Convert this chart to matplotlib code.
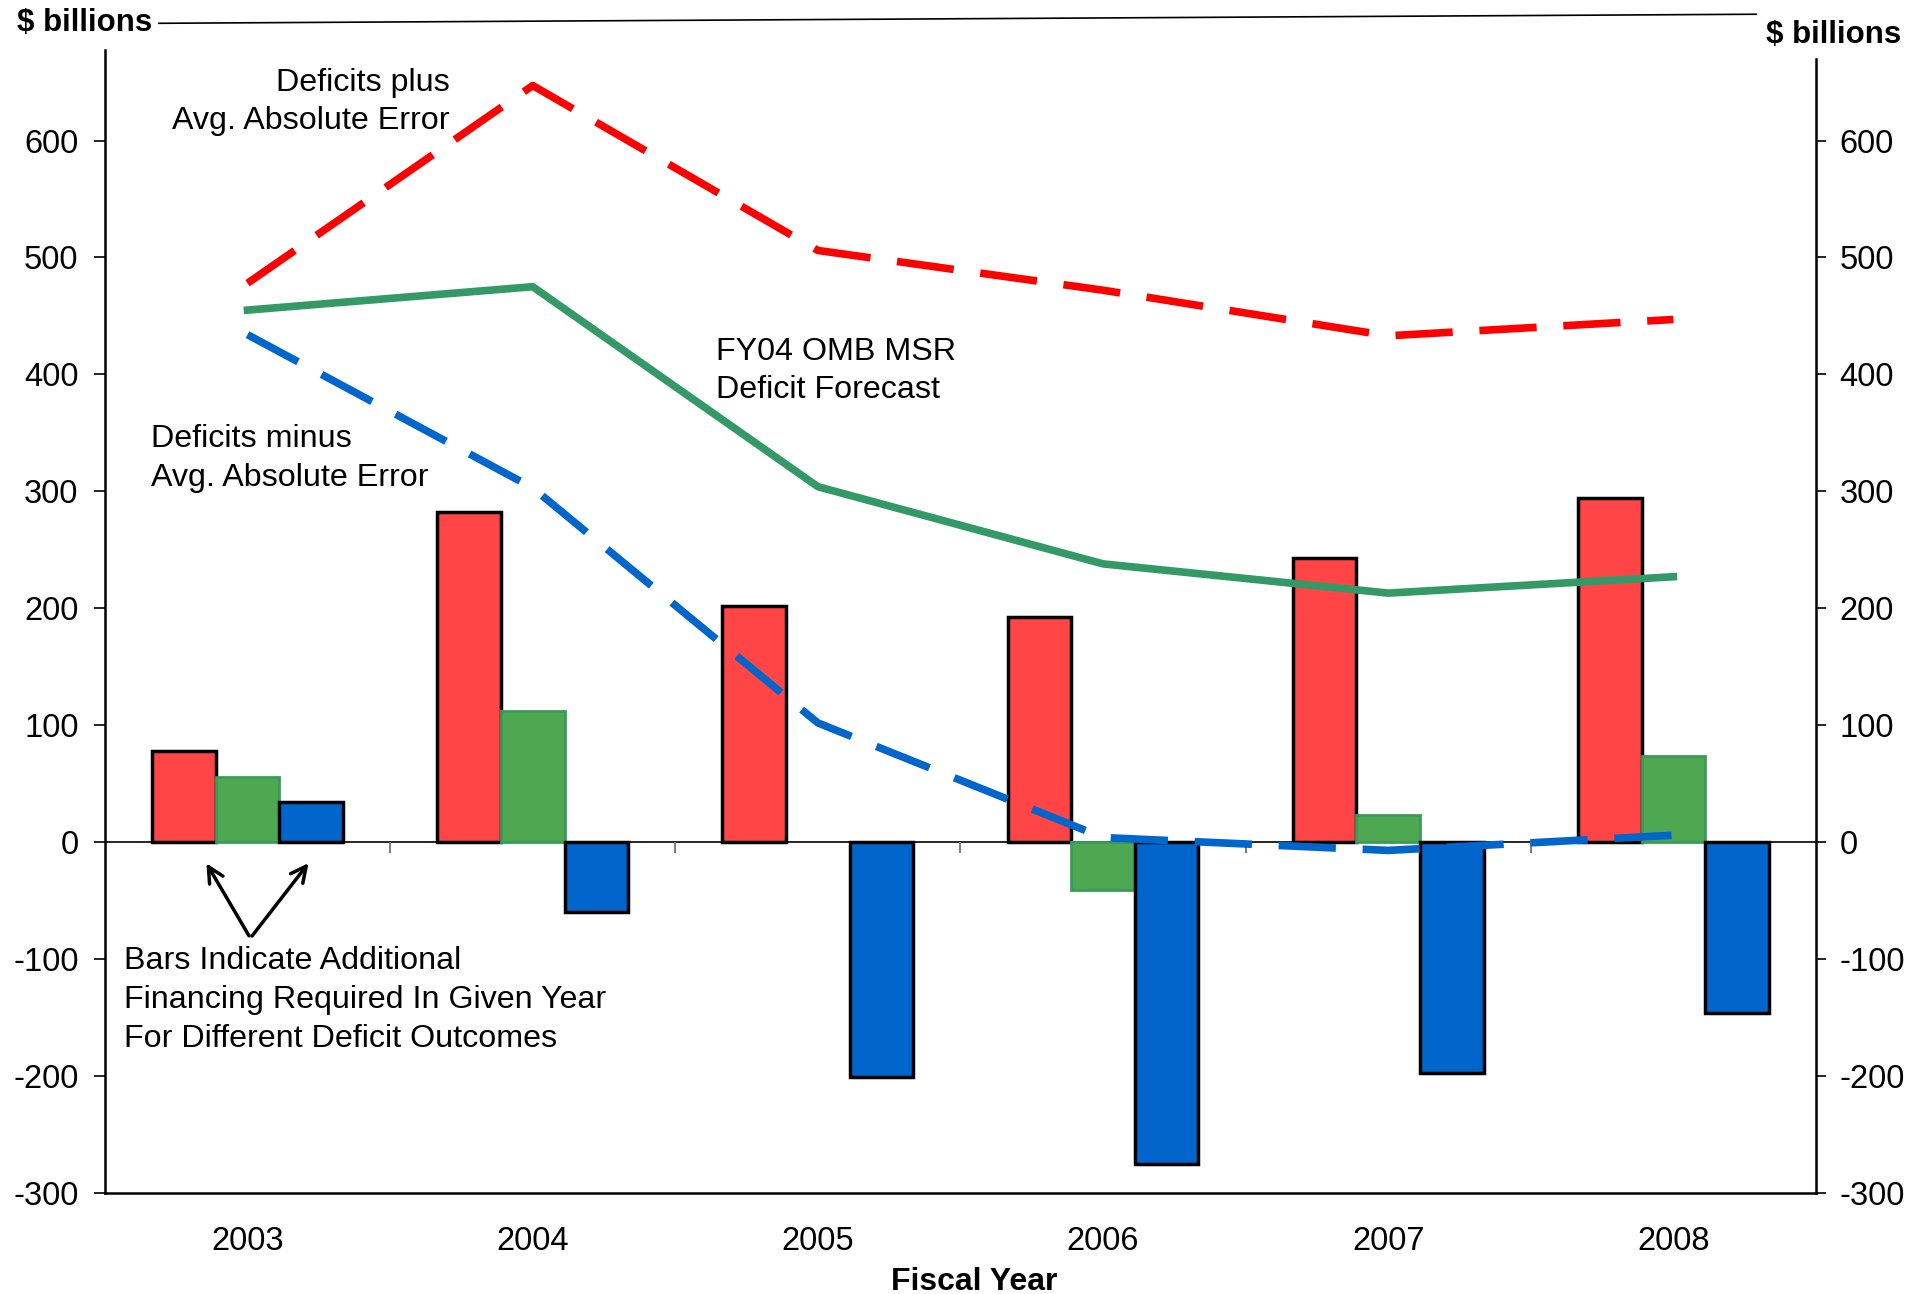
import numpy as np
import matplotlib
matplotlib.use("Agg")
import matplotlib.pyplot as plt

plt.rcParams['font.family'] = ['Liberation Sans', 'DejaVu Sans']
plt.rcParams['axes.unicode_minus'] = False

years = ["2003", "2004", "2005", "2006", "2007", "2008"]
# bars: additional financing required ($ billions)
bar_high = [78, 282, 202, 193, 243, 294]
bar_mid = [56, 112, 0, -41, 23, 74]
bar_low = [34, -60, -201, -275, -197, -146]
# lines: deficit forecast and +/- avg absolute error
line_plus = [478, 647, 506, 472, 433, 447]
line_fcst = [455, 475, 304, 238, 213, 227]
line_minus = [434, 303, 102, 4, -7, 6]

red_bar = "#FF4545"
green_bar = "#4EA852"
blue_bar = "#0066CC"

fig = plt.figure(figsize=(19.15, 12.94), dpi=100)
ax = fig.add_axes([0.0548, 0.078, 0.8935, 0.883])
x = np.arange(len(years))
w = 0.223

ax.bar(x - w, bar_high, w, color=red_bar, edgecolor="black", linewidth=2.5, zorder=2)
ax.bar(x, bar_mid, w, color=green_bar, edgecolor="#3C9A5C",
       linewidth=[0 if v == 0 else 2 for v in bar_mid], zorder=2)
ax.bar(x + w, bar_low, w, color=blue_bar, edgecolor="black", linewidth=2.5, zorder=2)

ax.plot(x, line_plus, color="#FF0000", lw=5.5, dashes=(7.5, 3.5), zorder=3)
ax.plot(x, line_fcst, color="#339966", lw=5.5, zorder=3)
ax.plot(x, line_minus, color="#0066CC", lw=5.5, dashes=(7.5, 3.5), zorder=3)

ax.axhline(0, color="black", lw=1.2, zorder=1)
ax.vlines(x[:-1] + 0.5, -9, 0, color="gray", lw=1.5, zorder=1)

ax.set_xlim(-0.5, len(years) - 0.5)
ax.set_ylim(-300, 677)
ax.set_yticks(np.arange(-300, 601, 100))
ax.set_xticks(x)
ax.set_xticklabels(years)
ax.tick_params(axis="x", length=0, pad=24, labelsize=23.5)
ax.tick_params(axis="y", length=8, width=1.2, labelsize=23.5, pad=11)
ax.spines["top"].set_visible(False)
ax.spines["right"].set_visible(False)
for s in ["left", "bottom"]:
    ax.spines[s].set_linewidth(1.8)
ax.set_xlabel("Fiscal Year", fontsize=23, fontweight="bold", labelpad=6)
ax.xaxis.set_label_coords(0.508, -0.0645)

ax2 = ax.twinx()
ax2.set_ylim(-300, 677)
ax2.set_yticks(np.arange(-300, 601, 100))
ax2.tick_params(axis="y", length=7, width=1.2, labelsize=23.5, pad=10)
for s in ["top", "left", "bottom"]:
    ax2.spines[s].set_visible(False)
ax2.spines["right"].set_linewidth(1.8)
ax2.spines["right"].set_bounds(-300, 670)

fs = 23.2
ls = 1.38
ax.text(0.709, 633, "Deficits plus\nAvg. Absolute Error", ha="right", va="center",
        multialignment="right", fontsize=fs, linespacing=ls)
ax.text(1.643, 403, "FY04 OMB MSR\nDeficit Forecast", ha="left", va="center",
        fontsize=fs, linespacing=ls)
ax.text(-0.337, 328, "Deficits minus\nAvg. Absolute Error", ha="left", va="center",
        fontsize=fs, linespacing=ls)
ax.text(-0.432, -135, "Bars Indicate Additional\nFinancing Required In Given Year\nFor Different Deficit Outcomes",
        ha="left", va="center", fontsize=fs, linespacing=ls)

for tx in [-0.149, 0.22]:
    ax.annotate("", xy=(tx, -16), xytext=(0.01, -82),
                arrowprops=dict(arrowstyle="->", lw=2.5, color="black",
                                mutation_scale=28))

fig.text(0.009, 0.982, "$ billions", fontsize=22.5, fontweight="bold", ha="left", va="center")
fig.text(0.993, 0.973, "$ billions", fontsize=22.5, fontweight="bold", ha="right", va="center")
fig.add_artist(plt.Line2D([0.083, 0.917], [0.982, 0.989], color="black", lw=1.2))

fig.savefig("out.png", dpi=100)
